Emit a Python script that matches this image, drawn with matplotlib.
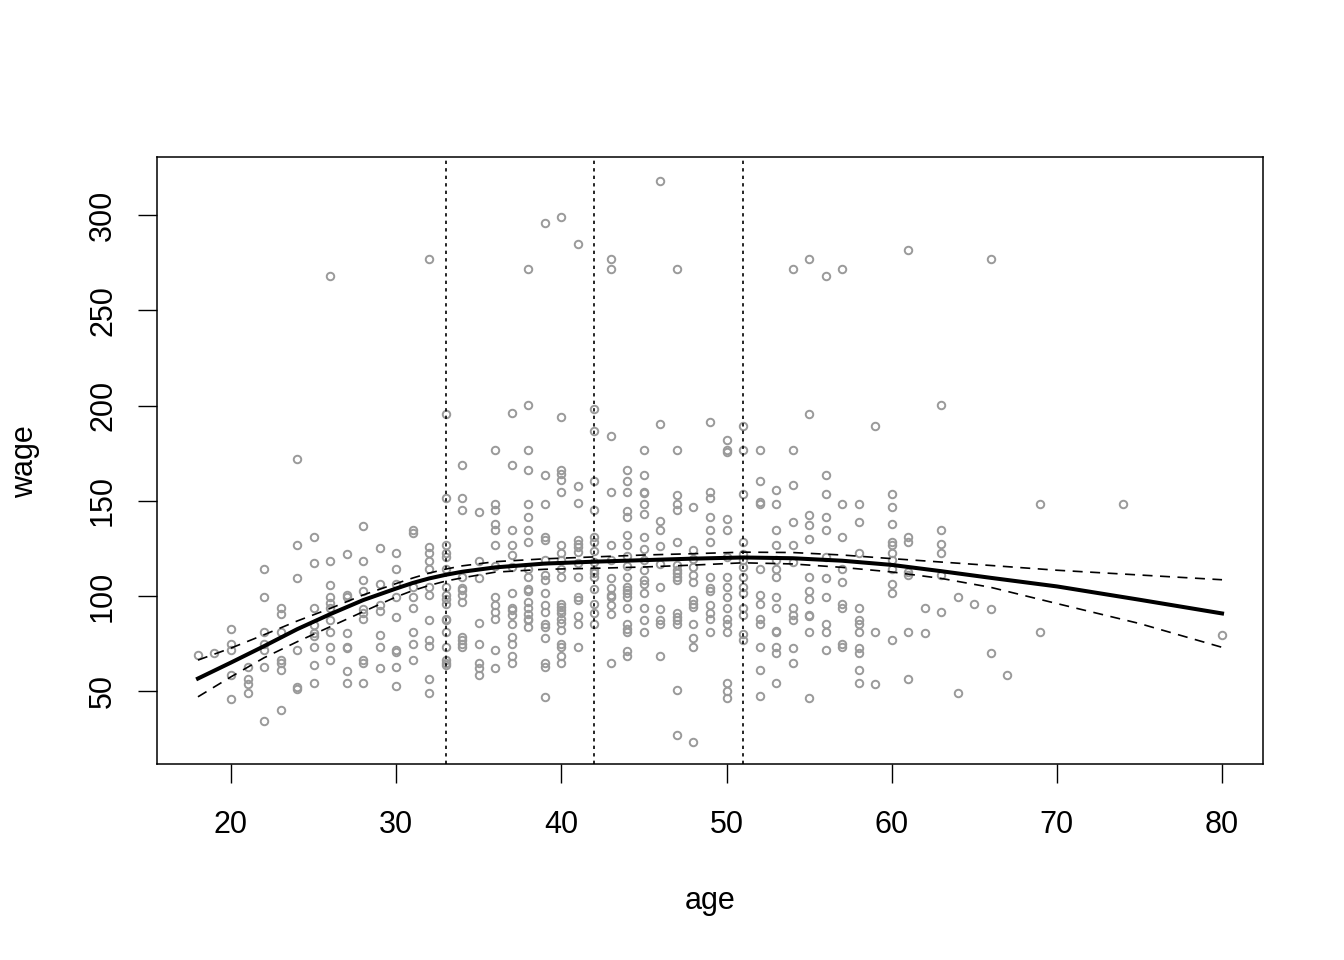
import matplotlib
matplotlib.use("Agg")
import matplotlib.pyplot as plt

plt.rcParams['font.family'] = ['Liberation Sans', 'DejaVu Sans']

# Scatter data: wages observed at each age
point_ages = [18, 19, 20, 21, 22, 23, 24, 25, 26, 27, 28, 29, 30, 31, 32, 33, 34, 35, 36, 37,
              38, 39, 40, 41, 42, 43, 44, 45, 46, 47, 48, 49, 50, 51, 52, 53, 54, 55, 56, 57,
              58, 59, 60, 61, 62, 63, 64, 65, 66, 67, 69, 74, 80]
point_wages = [
    [69],
    [70],
    [82.4, 75, 71.8, 58.7, 46.1],
    [62.7, 56.1, 53.5, 49.1],
    [114.2, 99.3, 81, 75, 71.8, 62.7, 34.2],
    [93.9, 90.4, 81, 66.2, 64.8, 61, 40],
    [172, 126.8, 109.5, 71.8, 51.9, 51.2],
    [130.7, 117.5, 93.6, 84.8, 80.3, 79.2, 73.2, 63.6, 54],
    [268, 118.6, 105.6, 99.5, 96.4, 93.9, 87.6, 81, 73.2, 66.6],
    [121.9, 100.4, 99.5, 80.3, 73.2, 72.4, 60.6, 54],
    [136.6, 118.6, 108.6, 102.7, 92.9, 90.8, 87.8, 66.2, 64.5, 54],
    [125.4, 106.5, 95.1, 92.2, 79.4, 73.2, 61.9],
    [122.6, 114.2, 106.5, 99.5, 89, 71.8, 70.6, 62.7, 52.6],
    [134.5, 133.1, 104.8, 99.5, 93.9, 81, 75, 66.2],
    [277, 125.8, 122.6, 118.4, 114.4, 104.8, 100.4, 87.6, 76.7, 73.6, 56.6, 49.1],
    [195.8, 151.2, 126.8, 122.3, 120.5, 114.4, 104.8, 100.4, 98.6, 96, 88.1, 87.2, 81, 73.2,
     66.2, 64.5, 63.6],
    [169, 151.5, 145, 109.7, 104.4, 103, 100.4, 96.9, 78.5, 76.7, 75, 73.2],
    [144.3, 118.6, 109.5, 85.9, 75, 64.8, 61.9, 58.7],
    [176.9, 148.5, 145, 138, 134.5, 126.8, 115.6, 99.5, 95.1, 91.3, 87.8, 71.8, 61.9],
    [196, 169, 134.5, 126.8, 121.4, 115.3, 101.6, 93.9, 92.5, 89.9, 85.2, 78.5, 74.7, 68.3, 64.8],
    [272, 200.4, 176.9, 166, 148.2, 141.5, 134.5, 128.4, 113.9, 109.7, 103.9, 102.7, 96.9, 93.9,
     90.4, 88.1, 87.2, 83.8],
    [296, 163.4, 148.2, 131, 129.3, 118.8, 110.9, 108.3, 101.6, 95.1, 91.3, 85.2, 83.8, 78.1,
     64.8, 62.7, 47],
    [299, 193.9, 166.4, 163.9, 160.8, 154.7, 126.8, 122.6, 118.8, 114.4, 109.7, 95.7, 94.3, 92.5,
     90.8, 88.1, 85.9, 82, 75, 73.2, 68.3, 64.8],
    [285, 157.6, 148.9, 129.3, 127.5, 125.8, 123.1, 117.4, 109.7, 99.5, 98.1, 89.4, 85.2, 73.2],
    [198.2, 186.7, 160.4, 145, 131, 128.4, 123.7, 117.9, 113.5, 111.8, 110, 103.4, 95.7, 91.1, 85.2],
    [277, 272, 184.1, 154.7, 126.8, 119.1, 109.5, 104.4, 100.4, 99.2, 95.1, 90.4, 64.8],
    [166, 160.4, 154.7, 144.5, 141.5, 132.2, 126.8, 120.9, 115.6, 109.7, 104.8, 103, 101.3, 99.2,
     93.7, 85.2, 82.4, 81.1, 71.1, 68.3],
    [176.9, 163.4, 154.7, 154.1, 148.5, 142.9, 131, 124.4, 119.1, 113.5, 108.3, 106.2, 101.3,
     93.7, 87.6, 81],
    [318, 190.5, 139.4, 134.5, 126.1, 117, 104.8, 92.9, 87.6, 85.2, 68.3],
    [272, 176.9, 152.9, 148.5, 145, 128.4, 116.1, 113.5, 111.8, 110, 108.3, 90.8, 89, 87.2, 85.5,
     50.8, 26.9],
    [146.8, 124, 119.6, 115.3, 110.9, 107.4, 97.8, 95.7, 94.3, 85.2, 78.1, 73.2, 23.4],
    [191.4, 154.7, 151.7, 141.5, 134.5, 128.4, 109.7, 104.4, 102.7, 95.1, 90.8, 88.1, 81.1],
    [182.1, 176.9, 175.7, 140.6, 134.5, 120.5, 109.7, 104.8, 99.5, 93.9, 88.1, 85.2, 81.1, 54,
     50.1, 46.5],
    [189.1, 176.9, 153.3, 128.4, 121.9, 118.8, 115.3, 110, 104.8, 101.3, 93.9, 90.2, 79.9, 77.1],
    [176.9, 160.4, 149.4, 148.5, 114.4, 100.4, 96, 88.1, 85.2, 73.2, 61, 47.3],
    [155.5, 148.2, 134.5, 126.8, 118.8, 114.4, 109.7, 99.5, 93.9, 81.5, 80.8, 73.2, 70.1, 54],
    [272, 176.9, 158.2, 138.9, 126.8, 117.9, 93.9, 89.9, 87.2, 72.4, 64.8],
    [277, 195.8, 142.4, 137.1, 130.1, 109.7, 102.7, 98.6, 89.9, 89.4, 81.1, 46.5],
    [268, 163.4, 153.8, 141.5, 134.5, 120.5, 109.5, 99.5, 85.2, 81.1, 71.5],
    [272, 148.2, 130.7, 114.4, 107.4, 95.7, 93.9, 75, 73.2],
    [148.2, 138.9, 122.8, 93.9, 87.6, 85.2, 81.1, 72.9, 70.1, 61.3, 54],
    [189.1, 81.1, 53.6],
    [153.3, 146.8, 138, 128.4, 126.6, 122.8, 118.8, 114.4, 106.5, 101.6, 76.7],
    [282, 130.7, 128.4, 112.6, 110.9, 81.1, 56.6],
    [93.7, 80.3],
    [200.4, 134.5, 127.5, 122.8, 110.9, 91.5],
    [99.5, 49.1],
    [95.7],
    [277, 92.9, 70.1],
    [58.7],
    [148.2, 80.8],
    [148.2],
    [79.4],
]

# Fitted spline curve with confidence bands
fit_age = [18, 20, 22, 24, 26, 28, 30, 31, 32, 33, 34, 36, 39, 42, 45, 48, 51, 54, 57, 60, 63,
           66, 70, 75, 80]
fit_mid = [56.6, 65, 73.6, 82.5, 90.4, 97.8, 103.9, 106.8, 109.2, 111.1, 112.7, 115, 117, 118,
           118.8, 119.6, 120.2, 119.8, 118.5, 116.3, 113, 109.5, 105, 98, 90.8]
fit_upper = [66.3, 72.6, 79.6, 86.8, 93.4, 100.5, 106.5, 109.4, 112, 114.1, 115.8, 118, 119.5,
             120.5, 121.5, 122.2, 123, 122.8, 121.5, 119.6, 117.8, 116, 113.5, 111, 108.5]
fit_lower = [47, 57.5, 67.5, 75.9, 83.8, 91.7, 99.5, 102.8, 105.5, 107.8, 109.5, 112.5, 114,
             114.5, 115.2, 116.2, 117.4, 116.8, 115, 112.6, 109.2, 104.5, 96, 85.5, 73]
knots = [33, 42, 51]

xs, ys = [], []
for a, ws in zip(point_ages, point_wages):
    for w in ws:
        xs.append(a)
        ys.append(w)

fig = plt.figure(figsize=(13.44, 9.6), dpi=100)
ax = fig.add_axes([157 / 1344, 1 - 764 / 960, (1263 - 157) / 1344, (764 - 157) / 960])

ax.plot(xs, ys, linestyle='none', marker='o', markersize=5.4, markerfacecolor='none',
        markeredgecolor='#9a9a9a', markeredgewidth=1.4)
ax.plot(fit_age, fit_mid, color='black', lw=2.9, solid_joinstyle='round')
ax.plot(fit_age, fit_upper, color='black', lw=1.2, dashes=(6.0, 4.5))
ax.plot(fit_age, fit_lower, color='black', lw=1.2, dashes=(6.0, 4.5))
for k in knots:
    ax.axvline(k, color='black', lw=1.2, dashes=(2.0, 2.5))

ax.set_xlim(15.52, 82.48)
ax.set_ylim(11.7, 330.6)
ax.set_xticks([20, 30, 40, 50, 60, 70, 80])
ax.set_yticks([50, 100, 150, 200, 250, 300])
ax.tick_params(direction='out', length=14, width=1, labelsize=22)
ax.tick_params(axis='x', pad=19)
ax.tick_params(axis='y', pad=14)
for lab in ax.get_yticklabels():
    lab.set_rotation(90)
    lab.set_va('center')
for s in ax.spines.values():
    s.set_linewidth(1.1)

fig.text(710 / 1344, 1 - 901 / 960, 'age', ha='center', va='center', fontsize=22)
fig.text(25 / 1344, 1 - 462 / 960, 'wage', ha='center', va='center', fontsize=22, rotation=90)

fig.savefig('out.png', dpi=100)
